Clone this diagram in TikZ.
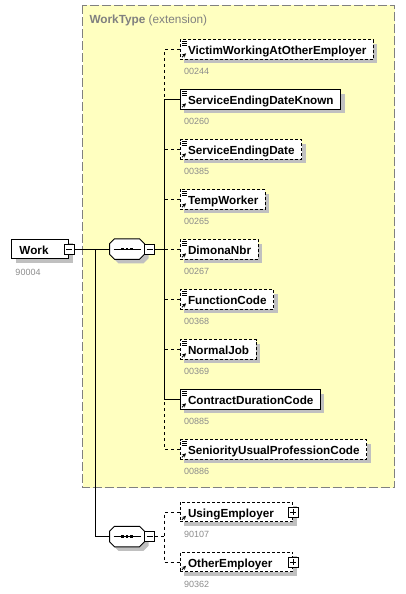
\documentclass[tikz,border=0pt]{standalone}
\usepackage{fontspec}
\setmainfont{Liberation Sans}
\usetikzlibrary{shadows}

\definecolor{typeyellow}{RGB}{255,255,192}
\definecolor{framegray}{RGB}{128,128,128}
\definecolor{titlegray}{RGB}{128,128,128}
\definecolor{numgray}{RGB}{140,140,140}
\definecolor{shadowgray}{RGB}{192,192,192}

\newcommand{\elemfont}{\fontsize{11.7}{13}\selectfont\bfseries}
\newcommand{\numfont}{\fontsize{9}{10}\selectfont}
% outline of a sequence compositor, cut corners of 5pt
\newcommand{\seqpath}[1]{([xshift=5pt]#1.north west) -- ([xshift=-5pt]#1.north east)
  -- ([yshift=-5pt]#1.north east) -- ([yshift=5pt]#1.south east) -- ([xshift=-5pt]#1.south east)
  -- ([xshift=5pt]#1.south west) -- ([yshift=5pt]#1.south west) -- ([yshift=-5pt]#1.north west) -- cycle}

\tikzset{
  shade4/.style={drop shadow={shadow xshift=4pt,shadow yshift=-4pt,fill=shadowgray,opacity=1}},
  box/.style={draw,fill=white,anchor=west,shade4,minimum height=19.5pt,inner xsep=0pt,inner ysep=0pt,
    text height=11pt,text depth=1pt,font=\elemfont,
    execute at begin node={\kern8pt},execute at end node={\kern7pt}},
  elem/.style={box,path picture={
    \draw[solid,line width=0.8pt] ([xshift=2pt,yshift=-2pt]path picture bounding box.north west) -- ++(5,0)
      ++(-5,2) -- ++(5,0) ++(-5,2) -- ++(5,0);
    \draw[solid,line width=0.8pt,-stealth] ([xshift=2pt,yshift=2pt]path picture bounding box.south west) -- ++(4,-4);}},
  elemref/.style={box,path picture={
    \draw[solid,line width=0.8pt,-stealth] ([xshift=2pt,yshift=2pt]path picture bounding box.south west) -- ++(4,-4);}},
  optbox/.style={dash pattern=on 3pt off 2pt},
  optline/.style={dash pattern=on 3pt off 3pt},
  pmbox/.style={draw,solid,fill=white,minimum size=10pt,inner sep=0pt,line width=0.8pt},
  minusbox/.style={pmbox,path picture={
    \draw ([xshift=2pt]path picture bounding box.west) -- ([xshift=-2pt]path picture bounding box.east);}},
  plusbox/.style={pmbox,path picture={
    \draw ([xshift=2pt]path picture bounding box.west) -- ([xshift=-2pt]path picture bounding box.east);
    \draw ([yshift=-2pt]path picture bounding box.north) -- ([yshift=2pt]path picture bounding box.south);}},
  seq/.style={minimum width=34pt,minimum height=19.5pt,inner sep=0pt},
  seqshadow/.style={fill=shadowgray,draw=none,transform canvas={shift={(4pt,-4pt)}}},
  seqdot/.style={fill=black},
  num/.style={anchor=west,inner sep=0pt,text=numgray,font=\numfont},
  title/.style={anchor=base west,inner sep=0pt,text=titlegray,font=\fontsize{11.8}{13}\selectfont},
}

\begin{document}
\begin{tikzpicture}[x=1pt,y=-1pt,line width=1pt]
\useasboundingbox (0,0) rectangle (406,594);

% WorkType frame
\draw[draw=framegray,fill=typeyellow,dash pattern=on 9pt off 3pt] (82.5,5.5) rectangle (394.5,487.5);
\node[title] (wtitle) at (89,24) {\textbf{WorkType} (extension)};

% root element
\node[box,execute at end node={\kern13pt}] (work) at (11,249) {Work};
\node[minusbox] (workpm) at (work.east) {};
\node[num] (n90004) at ([xshift=4pt,yshift=-23pt]work.west) {90004};

% sequences
\node[seq] (seqA) at (127,249) {};
\fill[seqshadow] \seqpath{seqA};
\draw[fill=white] \seqpath{seqA};
\draw ([xshift=4pt]seqA.west) -- ([xshift=-4pt]seqA.east);
\fill[seqdot] ([xshift=-4.5pt]seqA.center) +(-1.4,-1.4) rectangle +(1.4,1.4);
\fill[seqdot] (seqA.center) +(-1.4,-1.4) rectangle +(1.4,1.4);
\fill[seqdot] ([xshift=4.5pt]seqA.center) +(-1.4,-1.4) rectangle +(1.4,1.4);
\node[minusbox] (seqApm) at ([xshift=5pt]seqA.east) {};

\node[seq] (seqB) at (127,536.5) {};
\fill[seqshadow] \seqpath{seqB};
\draw[fill=white] \seqpath{seqB};
\draw ([xshift=4pt]seqB.west) -- ([xshift=-4pt]seqB.east);
\fill[seqdot] ([xshift=-4.5pt]seqB.center) +(-1.4,-1.4) rectangle +(1.4,1.4);
\fill[seqdot] (seqB.center) +(-1.4,-1.4) rectangle +(1.4,1.4);
\fill[seqdot] ([xshift=4.5pt]seqB.center) +(-1.4,-1.4) rectangle +(1.4,1.4);
\node[minusbox] (seqBpm) at ([xshift=5pt]seqB.east) {};

\coordinate (branch) at (95,249);
\coordinate (spA) at (164,249);
\coordinate (spB) at (164,536.5);

% children of WorkType
\node[elem,optbox] (victim) at (179.5,49.5) {VictimWorkingAtOtherEmployer};
\node[elem] (known) at (179.5,99.5) {ServiceEndingDateKnown};
\node[elem,optbox] (sed) at (179.5,149.5) {ServiceEndingDate};
\node[elem,optbox] (temp) at (179.5,199.5) {TempWorker};
\node[elem,optbox] (dimona) at (179.5,249.5) {DimonaNbr};
\node[elem,optbox] (function) at (179.5,299.5) {FunctionCode};
\node[elem,optbox] (normal) at (179.5,349.5) {NormalJob};
\node[elem] (contract) at (179.5,399.5) {ContractDurationCode};
\node[elem,optbox] (senior) at (179.5,449.5) {SeniorityUsualProfessionCode};

\node[num] (n00244) at ([xshift=4pt,yshift=-22pt]victim.west) {00244};
\node[num] (n00260) at ([xshift=4pt,yshift=-22pt]known.west) {00260};
\node[num] (n00385) at ([xshift=4pt,yshift=-22pt]sed.west) {00385};
\node[num] (n00265) at ([xshift=4pt,yshift=-22pt]temp.west) {00265};
\node[num] (n00267) at ([xshift=4pt,yshift=-22pt]dimona.west) {00267};
\node[num] (n00368) at ([xshift=4pt,yshift=-22pt]function.west) {00368};
\node[num] (n00369) at ([xshift=4pt,yshift=-22pt]normal.west) {00369};
\node[num] (n00885) at ([xshift=4pt,yshift=-22pt]contract.west) {00885};
\node[num] (n00886) at ([xshift=4pt,yshift=-22pt]senior.west) {00886};

% employers
\node[elemref,optbox,execute at end node={\kern12pt}] (usingemp) at (179.5,512) {UsingEmployer};
\node[plusbox] (usingpm) at (usingemp.east) {};
\node[elemref,optbox,execute at end node={\kern13pt}] (otheremp) at (179.5,562) {OtherEmployer};
\node[plusbox] (otherpm) at (otheremp.east) {};
\node[num] (n90107) at ([xshift=4pt,yshift=-22pt]usingemp.west) {90107};
\node[num] (n90362) at ([xshift=4pt,yshift=-22pt]otheremp.west) {90362};

% connectors
\draw (workpm.east) -- (seqA.west);
\draw (branch) |- (seqB.west);
\draw (seqApm.east) -- (spA);
\draw[optline] (victim.west) -| (known.west -| spA);
\draw (known.west) -| (contract.west -| spA) -- (contract.west);
\draw[optline] (sed.west) -- (sed.west -| spA);
\draw[optline] (temp.west) -- (temp.west -| spA);
\draw[optline] (dimona.west) -- (dimona.west -| spA);
\draw[optline] (function.west) -- (function.west -| spA);
\draw[optline] (normal.west) -- (normal.west -| spA);
\draw[optline] (senior.west) -| (contract.west -| spA);
\draw[optline] (seqBpm.east) -- (spB);
\draw[optline] (usingemp.west) -| (otheremp.west -| spB) -- (otheremp.west);

\end{tikzpicture}
\end{document}
